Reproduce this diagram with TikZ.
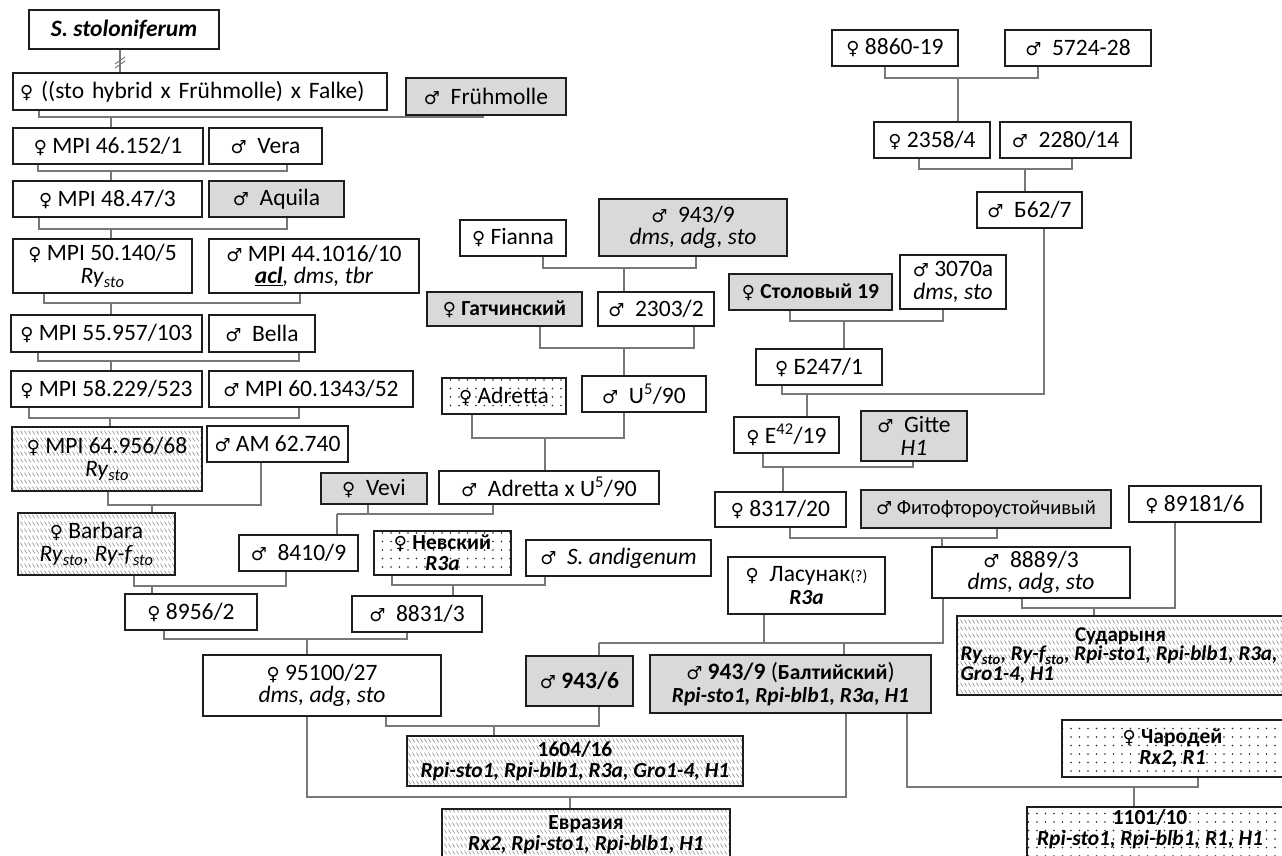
\documentclass[tikz,border=0pt]{standalone}
\usepackage{fontspec}
\setmainfont{Carlito}
\newfontfamily\symfont{DejaVu Sans}
\usetikzlibrary{patterns,patterns.meta}
\definecolor{boxgray}{RGB}{217,217,217}
\definecolor{linegray}{RGB}{120,120,120}
\definecolor{edge}{RGB}{30,30,30}
\pgfdeclarepattern{
  name=hatchrows,
  type=uncolored,
  bottom left={\pgfpoint{0pt}{0pt}},
  top right={\pgfpoint{4pt}{7pt}},
  tile size={\pgfpoint{4pt}{7pt}},
  code={
    \pgfsetlinewidth{0.7pt}
    \pgfpathmoveto{\pgfpoint{0.6pt}{6pt}}
    \pgfpathlineto{\pgfpoint{3.4pt}{1.8pt}}
    \pgfusepath{stroke}
  }
}
\newcommand{\Fe}{{\symfont\fontsize{18}{18}\selectfont ♀}}
\newcommand{\Ma}{{\symfont\fontsize{18}{18}\selectfont ♂}}
\newcommand{\Rysto}{\textit{Ry}\textsubscript{\textit{sto}}}
\newcommand{\Ryfsto}{\textit{Ry-f}\textsubscript{\textit{sto}}}
\newcommand{\Bd}[1]{{\fontsize{21.5}{21}\selectfont\bfseries #1}}
\newcommand{\BI}[1]{{\fontsize{21.5}{21}\selectfont\bfseries\itshape #1}}
\tikzset{
  box/.style={draw=edge, line width=2pt, inner sep=0pt, align=center,
    font=\fontsize{23.5}{22.5}\selectfont},
  tight/.style={font=\fontsize{23.5}{21}\selectfont},
  grayfill/.style={fill=boxgray},
  hatch/.style={pattern=hatchrows, pattern color=black!45},
  dotted box/.style={pattern={Dots[distance=8.5pt, radius=0.8pt]}, pattern color=black!85},
  conn/.style={draw=linegray, line width=1.5pt},
}
% #1 name, #2 left, #3 top, #4 right, #5 bottom, #6 style, #7 text
\newcommand{\bx}[7]{%
  \node[box,#6,minimum width={#4-#2},minimum height={#5-#3}] (#1) at ({(#2+#4)/2},{(#3+#5)/2}) {#7};}
% #1 A, #2 stub x of A, #3 B, #4 stub x of B, #5 y of bar, #6 child, #7 child x, #8 junction name
\newcommand{\cross}[8]{%
  \coordinate (#8) at (#7,#5);
  \coordinate (#8a) at (#2,0);
  \coordinate (#8b) at (#4,0);
  \draw[conn] (#1.south -| #8a) |- (#8);
  \draw[conn] (#3.south -| #8b) |- (#8);
  \draw[conn] (#8) -- (#8 |- #6.north);}
\begin{document}
\begin{tikzpicture}[x=1pt,y=-1pt]
\useasboundingbox[fill=white] (0,0) rectangle (1282,856);
% left column
\bx{sst}{29}{10}{219}{49}{}{\textbf{\textit{S. stoloniferum}}}
\bx{fal}{13}{73}{387}{110}{text width=360pt,align=left}{\Fe\ ((sto hybrid x Frühmolle) x Falke)}
\bx{fru}{406}{78}{566}{115}{grayfill}{\Ma\ \ Frühmolle}
\bx{m46}{13}{128}{203}{164}{}{\Fe\ MPI 46.152/1}
\bx{vera}{209}{128}{322}{164}{}{\Ma\ \ Vera}
\bx{m48}{13}{181}{202}{217}{}{\Fe\ MPI 48.47/3}
\bx{aqu}{209}{181}{344}{217}{grayfill}{\Ma\ \ Aquila}
\bx{m50}{13}{239}{192}{293}{}{\Fe\ MPI 50.140/5\\\Rysto}
\bx{m44}{209}{239}{419}{293}{}{\Ma\ MPI 44.1016/10\\\textbf{\textit{\underline{acl}}}\textit{, dms, tbr}}
\bx{m55}{11}{315}{202}{352}{}{\Fe\ MPI 55.957/103}
\bx{bel}{209}{315}{315}{352}{}{\Ma\ \ Bella}
\bx{m58}{11}{371}{202}{407}{}{\Fe\ MPI 58.229/523}
\bx{m60}{209}{371}{413}{407}{}{\Ma\ MPI 60.1343/52}
\bx{m64}{12}{427}{202}{491}{hatch}{\Fe\ MPI 64.956/68\\\Rysto}
\bx{am}{207}{426}{348}{462}{}{\Ma\ AM 62.740}
\bx{bar}{18}{513}{175}{575}{hatch}{\Fe\ Barbara\\\Rysto\textit{,} \Ryfsto}
% middle column
\bx{fia}{460}{220}{566}{256}{}{\Fe\ Fianna}
\bx{g943}{599}{199}{787}{256}{grayfill}{\Ma\ \ 943/9\\\textit{dms, adg, sto}}
\bx{gat}{427}{292}{582}{326}{grayfill}{\Fe\ \Bd{Гатчинский}}
\bx{p2303}{598}{292}{714}{326}{}{\Ma\ \ 2303/2}
\bx{adr}{442}{378}{566}{414}{dotted box}{\Fe\ Adretta}
\bx{u5}{582}{376}{706}{412}{}{\Ma\ \ U\textsuperscript{5}/90}
\bx{axu}{439}{471}{659}{504}{}{\Ma\ \ Adretta x U\textsuperscript{5}/90}
\bx{vev}{321}{473}{427}{504}{grayfill}{\Fe\ \ Vevi}
\bx{p8410}{239}{535}{358}{571}{}{\Ma\ \ 8410/9}
\bx{nev}{374}{531}{511}{575}{dotted box,tight}{\Fe\ \Bd{Невский}\\\BI{R3a}}
\bx{and}{526}{540}{711}{576}{}{\Ma\ \ \textit{S. andigenum}}
\bx{p8956}{125}{594}{257}{630}{}{\Fe\ 8956/2}
\bx{p8831}{352}{596}{482}{632}{}{\Ma\ \ 8831/3}
\bx{p95}{203}{655}{441}{716}{}{\Fe\ 95100/27\\\textit{dms, adg, sto}}
\bx{p9436}{526}{656}{633}{706}{grayfill}{\Ma\ \textbf{943/6}}
\bx{balt}{650}{655}{931}{713}{grayfill}{\Ma\ \textbf{943/9} (\Bd{Балтийский})\\\BI{Rpi-sto1, Rpi-blb1, R3a, H1}}
\bx{p1604}{407}{736}{743}{786}{hatch,tight}{\Bd{1604/16}\\\BI{Rpi-sto1, Rpi-blb1, R3a, Gro1-4, H1}}
\bx{evr}{442}{809}{730}{860}{hatch,tight}{\Bd{Евразия}\\\BI{Rx2, Rpi-sto1, Rpi-blb1, H1}}
% right column
\bx{p8860}{832}{30}{958}{66}{}{\Fe\ 8860-19}
\bx{p5724}{1005}{30}{1151}{66}{}{\Ma\ \ 5724-28}
\bx{p2358}{874}{122}{990}{158}{}{\Fe\ 2358/4}
\bx{p2280}{1000}{122}{1131}{158}{}{\Ma\ \ 2280/14}
\bx{b62}{977}{192}{1082}{228}{}{\Ma\ \ Б62/7}
\bx{sto19}{729}{274}{892}{310}{grayfill}{\Fe\ \Bd{Столовый 19}}
\bx{p3070}{900}{255}{1006}{309}{}{\Ma\ 3070a\\\textit{dms, sto}}
\bx{b247}{756}{349}{882}{385}{}{\Fe\ Б247/1}
\bx{e42}{734}{417}{839}{453}{}{\Fe\ E\textsuperscript{42}/19}
\bx{git}{861}{411}{967}{461}{grayfill}{\Ma\ \ Gitte\\\textit{H1}}
\bx{p8317}{715}{492}{846}{527}{}{\Fe\ 8317/20}
\bx{fito}{861}{490}{1111}{528}{grayfill,font=\fontsize{20.5}{23}\selectfont}{\Ma\ Фитофтороустойчивый}
\bx{p89181}{1129}{486}{1261}{522}{}{\Fe\ 89181/6}
\bx{p8889}{932}{547}{1130}{598}{}{\Ma\ \ 8889/3\\\textit{dms, adg, sto}}
\bx{las}{728}{557}{885}{614}{}{\Fe\ \ Ласунак{\fontsize{16}{16}\selectfont(?)}\\\BI{R3a}}
\bx{sud}{957}{616}{1284}{695}{hatch}{\parbox{320pt}{\fontsize{21}{19.5}\selectfont\centering\textbf{Сударыня}\par\raggedright\mbox{\textbf{\textit{Ry\textsubscript{sto}, Ry-f\textsubscript{sto}, Rpi-sto1, Rpi-blb1, R3a,}}}\par\textbf{\textit{Gro1-4, H1}}}}
\bx{char}{1062}{720}{1283}{777}{dotted box,tight}{\Fe\ \Bd{Чародей}\\\BI{Rx2, R1}}
\bx{p1101}{1027}{807}{1290}{860}{dotted box,tight}{\parbox{246pt}{\centering\Bd{1101/10}\\\BI{Rpi-sto1, Rpi-blb1, R1, H1}\par\vspace*{8pt}}\hspace*{17pt}}
% connectors
\coordinate (xs) at (120,0);
\draw[conn] (sst.south -| xs) -- (fal.north -| xs);
\draw[conn, line width=1pt] (115,64) -- (125,57) (115,68) -- (125,61);
\cross{fal}{39}{fru}{483}{117}{m46}{111}{c2}
\cross{m46}{38}{vera}{287}{171}{m48}{111}{c3}
\cross{m48}{39}{aqu}{287}{229}{m50}{111}{c4}
\cross{m50}{44}{m44}{300}{303}{m55}{111}{c5}
\cross{m55}{38}{bel}{299}{361}{m58}{111}{c6}
\cross{m58}{29}{m60}{299}{418}{m64}{110}{c7}
\cross{m64}{108}{am}{261}{505}{bar}{152}{c8}
\cross{fia}{543}{g943}{696}{268}{p2303}{624}{c9}
\cross{gat}{540}{p2303}{694}{348}{u5}{624}{c10}
\cross{adr}{472}{u5}{624}{438}{axu}{545}{c11}
\cross{vev}{368}{axu}{493}{514}{p8410}{337}{c12}
\cross{bar}{134}{p8410}{286}{586}{p8956}{152}{c13}
\cross{nev}{392}{and}{545}{585}{p8831}{453}{c14}
\cross{p8956}{164}{p8831}{407}{639}{p95}{307}{c15}
\cross{p95}{386}{p9436}{599}{726}{p1604}{494}{c16}
\cross{p95}{307}{balt}{846}{797}{evr}{570}{c17}
\cross{balt}{907}{char}{1198}{787}{p1101}{1134}{c18}
\cross{p8860}{885}{p5724}{1038}{78}{p2358}{958}{c19}
\cross{p2358}{919}{p2280}{1072}{169}{b62}{1025}{c20}
\cross{sto19}{790}{p3070}{943}{321}{b247}{844}{c21}
\cross{b247}{782}{b62}{1044}{394}{e42}{807}{c22}
\cross{e42}{763}{git}{913}{467}{p8317}{783}{c23}
\cross{p8317}{790}{fito}{997}{538}{p8889}{942}{c24}
\cross{p8889}{1022}{p89181}{1175}{608}{sud}{1094}{c25}
\cross{las}{764}{p8889}{943}{643}{p9436}{599}{c26}
\coordinate (c26c) at (844,643);
\draw[conn] (c26c) -- (c26c |- balt.north);
\end{tikzpicture}
\end{document}
